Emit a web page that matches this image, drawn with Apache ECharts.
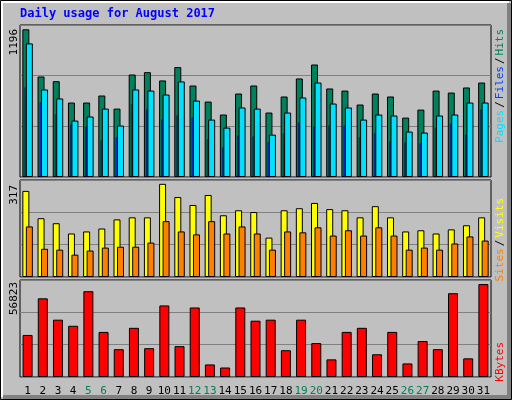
<!DOCTYPE html>
<html><head><meta charset="utf-8">
<script src="https://cdn.jsdelivr.net/npm/echarts@6/dist/echarts.min.js"></script>
<style>html,body{margin:0;padding:0;background:#c0c0c0}#c{width:512px;height:400px}</style>
</head><body><div id="c"></div>
<script>
const days = ['1','2','3','4','5','6','7','8','9','10','11','12','13','14','15','16','17','18','19','20','21','22','23','24','25','26','27','28','29','30','31'];
const weekend = ['5','6','12','13','19','20','26','27'];
const hits = [1196,814,776,603,603,660,554,830,849,782,890,741,611,506,676,741,522,652,798,911,717,700,587,676,652,481,546,700,684,725,765];
const pagesWide = [1082,709,636,457,490,554,417,709,700,668,774,619,465,400,563,554,343,522,644,765,595,563,465,506,498,368,360,498,506,603,603];
const filesThin = [725,603,506,425,408,295,319,587,546,465,498,481,303,238,335,327,279,352,441,408,417,417,319,352,287,279,270,400,433,343,546];
const visits = [293,200,183,148,155,165,196,203,203,317,272,245,279,210,227,221,134,227,234,252,231,227,203,241,203,155,159,148,162,176,203];
const sites = [172,96,93,76,90,100,103,103,117,190,155,145,190,148,172,148,93,155,152,169,141,159,141,169,141,93,100,93,114,138,124];
const kbytes = [25714,48112,35047,31314,52466,27581,17005,30069,17627,43757,18871,42513,7673,5807,42513,34425,35047,16383,35047,20738,10784,27581,30069,13894,27581,8295,21982,17005,51222,11406,56823];
const maxLabels = ['1196','317','56823'];

const chart = echarts.init(document.getElementById('c'));
const mono = 'DejaVu Sans Mono';
const grids = [
  {left:20,right:21,top:25,height:152},
  {left:20,right:21,top:180,height:97},
  {left:20,right:21,top:280,height:97}
].map(g=>Object.assign(g,{show:true,backgroundColor:'#c0c0c0',borderColor:'#000',borderWidth:1}));
function xa(gi,show){return {type:'category',data:days,gridIndex:gi,axisLine:{show:false},axisTick:{show:false},
  axisLabel:{show:show,interval:0,fontFamily:mono,fontSize:11,margin:9,
    color:(v)=>weekend.includes(v)?'#00805c':'#000'}};}
function ya(gi,max){return {type:'value',gridIndex:gi,min:0,max:max,interval:max/3,axisLabel:{show:false},axisLine:{show:false},axisTick:{show:false},
  splitLine:{lineStyle:{color:'#808080',width:1}}};}
const bs = {borderColor:'#000',borderWidth:1};
chart.setOption({
  animation:false,
  backgroundColor:'#c0c0c0',
  grid:grids,
  xAxis:[xa(0,false),xa(0,false),xa(1,false),xa(2,true)],
  yAxis:[ya(0,1231),ya(0,1231),ya(1,330),ya(2,59311)],
  series:[
    {type:'bar',xAxisIndex:0,yAxisIndex:0,data:hits,barWidth:7,barGap:'-50%',itemStyle:Object.assign({color:'#00805c'},bs),z:2},
    {type:'bar',xAxisIndex:0,yAxisIndex:0,data:pagesWide,barWidth:7,barGap:'-50%',itemStyle:Object.assign({color:'#00e0ff'},bs),z:4},
    {type:'bar',xAxisIndex:1,yAxisIndex:1,data:filesThin,barWidth:2,barGap:'0%',itemStyle:{color:'#0040ff',borderColor:'#000',borderWidth:0.5},z:3},
    {type:'bar',xAxisIndex:1,yAxisIndex:1,data:[],barWidth:4,barGap:'0%'},
    {type:'bar',xAxisIndex:2,yAxisIndex:2,data:visits,barWidth:7,barGap:'-50%',itemStyle:Object.assign({color:'#ffff00'},bs)},
    {type:'bar',xAxisIndex:2,yAxisIndex:2,data:sites,barWidth:7,barGap:'-50%',itemStyle:Object.assign({color:'#ff8000'},bs)},
    {type:'bar',xAxisIndex:3,yAxisIndex:3,data:kbytes,barWidth:10,itemStyle:Object.assign({color:'#ff0000'},bs)}
  ],
  graphic:[
    {type:'rect',shape:{x:0.5,y:0.5,width:511,height:399},style:{fill:'none',stroke:'#000',lineWidth:1},z:-1},
    {type:'polyline',shape:{points:[[2,397],[2,2],[509,2]]},style:{stroke:'#fff',lineWidth:2,fill:'none'}},
    {type:'polyline',shape:{points:[[3,397],[509,397],[509,3]]},style:{stroke:'#808080',lineWidth:4,fill:'none'}},
    {type:'text',left:20,top:8,style:{text:'Daily usage for August 2017',fill:'#0000ff',font:'bold 12px '+mono}},
    {type:'text',x:14,y:29,rotation:Math.PI/2,style:{text:maxLabels[0],fill:'#000',font:'11px '+mono,align:'right',verticalAlign:'middle'}},
    {type:'text',x:14,y:185,rotation:Math.PI/2,style:{text:maxLabels[1],fill:'#000',font:'11px '+mono,align:'right',verticalAlign:'middle'}},
    {type:'text',x:14,y:282,rotation:Math.PI/2,style:{text:maxLabels[2],fill:'#000',font:'11px '+mono,align:'right',verticalAlign:'middle'}},
    {type:'text',x:500,y:29,rotation:Math.PI/2,style:{text:'{p|Pages}{s|/}{f|Files}{s|/}{h|Hits}',align:'right',verticalAlign:'middle',
      rich:{p:{fill:'#00e0ff',font:'11px '+mono},s:{fill:'#000',font:'11px '+mono,padding:[0,2]},f:{fill:'#0040ff',font:'11px '+mono},h:{fill:'#00805c',font:'11px '+mono}}}},
    {type:'text',x:500,y:198,rotation:Math.PI/2,style:{text:'{a|Sites}{s|/}{b|Visits}',align:'right',verticalAlign:'middle',
      rich:{a:{fill:'#ff8000',font:'11px '+mono},s:{fill:'#000',font:'11px '+mono,padding:[0,2]},b:{fill:'#ffff00',font:'11px '+mono}}}},
    {type:'text',x:500,y:342,rotation:Math.PI/2,style:{text:'KBytes',fill:'#ff0000',font:'11px '+mono,align:'right',verticalAlign:'middle'}}
  ]
});
</script></body></html>
